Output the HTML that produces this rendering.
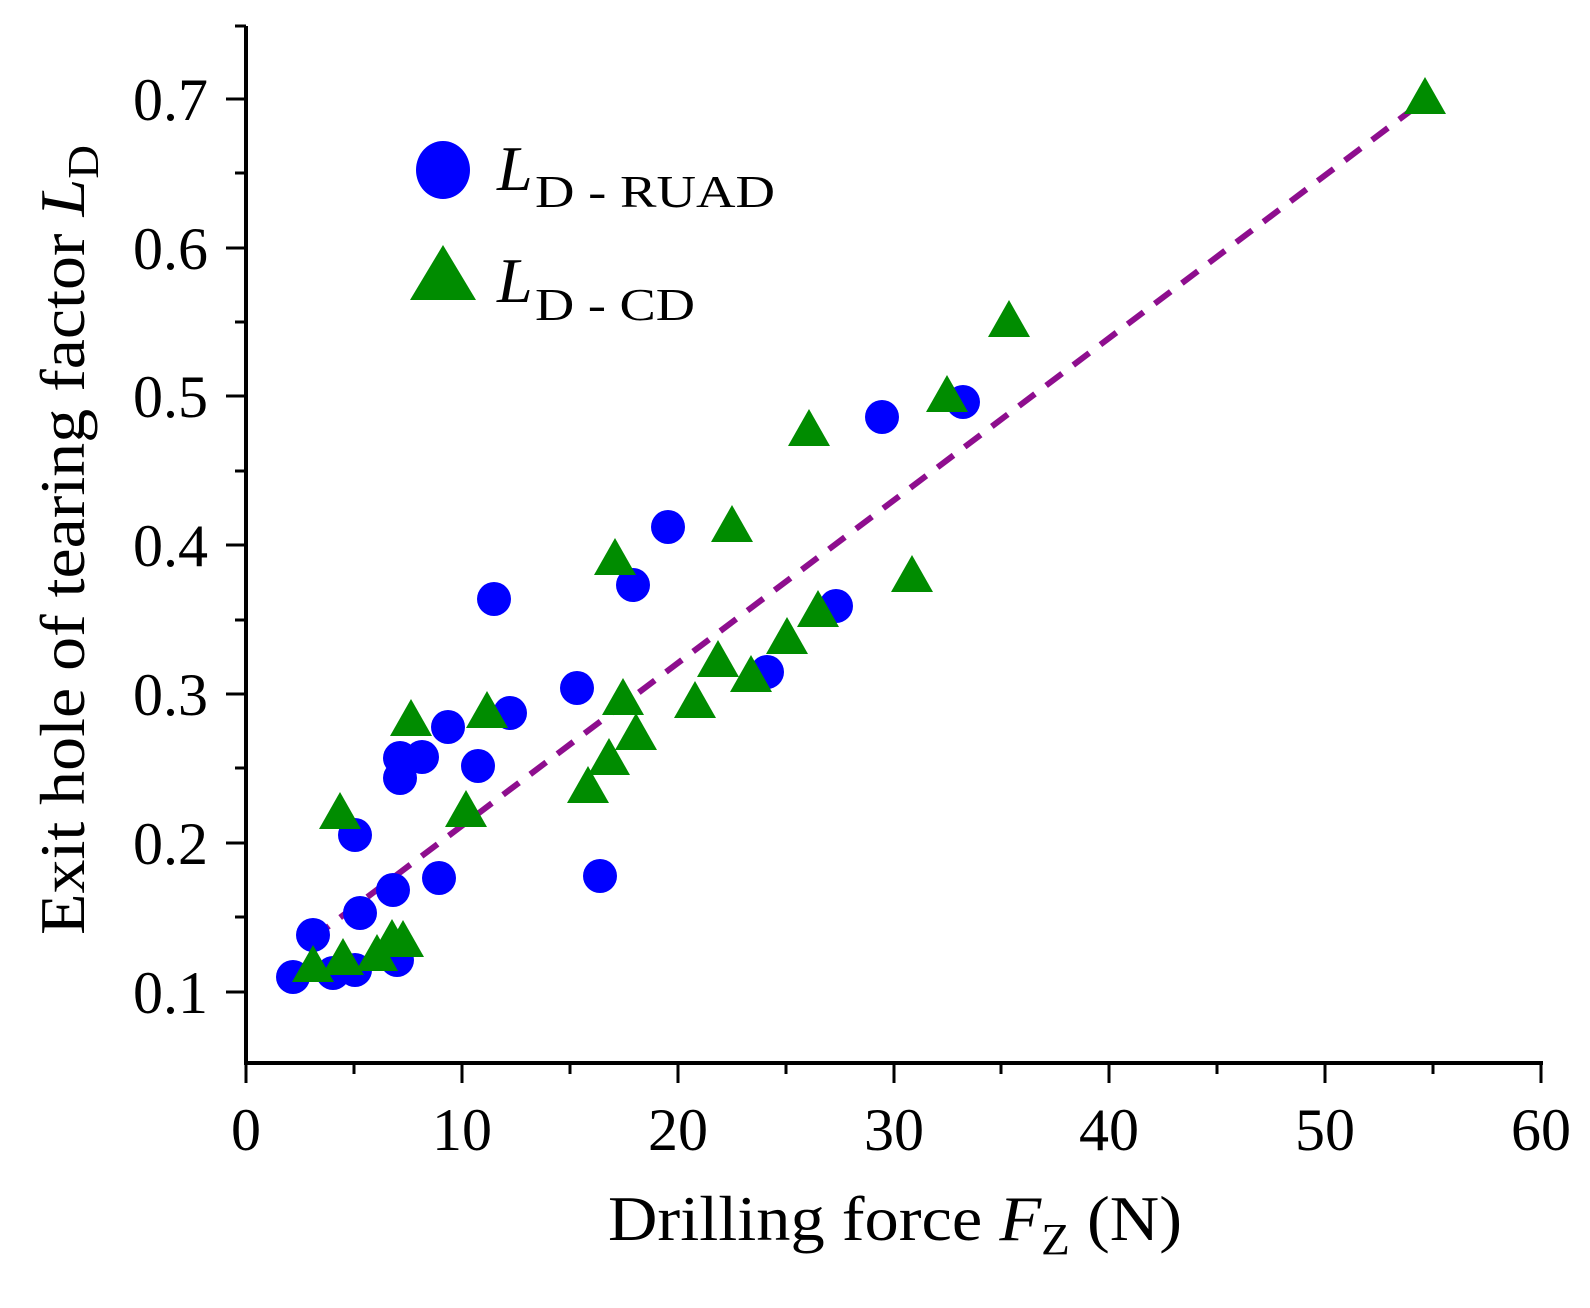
<!DOCTYPE html>
<html><head><meta charset="utf-8"><style>
html,body{margin:0;padding:0;background:#fff;}
svg{display:block;font-family:"Liberation Serif",serif;}
</style></head><body>
<svg width="1590" height="1308" viewBox="0 0 1590 1308" xmlns="http://www.w3.org/2000/svg">
<defs>
<symbol id="tri" overflow="visible"><polygon points="0,-20 -21,17 21,17" fill="#008c00"/></symbol>
</defs>
<g stroke="#000" stroke-width="4" fill="none">
<line x1="246" y1="26" x2="246" y2="1065"/>
<line x1="244" y1="1063" x2="1543" y2="1063"/>
</g>
<g stroke="#000" stroke-width="3">
<line x1="226" y1="99" x2="246" y2="99"/><line x1="226" y1="248" x2="246" y2="248"/>
<line x1="226" y1="396" x2="246" y2="396"/><line x1="226" y1="545" x2="246" y2="545"/>
<line x1="226" y1="694" x2="246" y2="694"/><line x1="226" y1="843" x2="246" y2="843"/>
<line x1="226" y1="992" x2="246" y2="992"/>
<line x1="235" y1="26" x2="246" y2="26"/><line x1="235" y1="173" x2="246" y2="173"/>
<line x1="235" y1="322" x2="246" y2="322"/><line x1="235" y1="471" x2="246" y2="471"/>
<line x1="235" y1="620" x2="246" y2="620"/><line x1="235" y1="768" x2="246" y2="768"/>
<line x1="235" y1="917" x2="246" y2="917"/>
<line x1="246" y1="1063" x2="246" y2="1083"/><line x1="462" y1="1063" x2="462" y2="1083"/>
<line x1="678" y1="1063" x2="678" y2="1083"/><line x1="894" y1="1063" x2="894" y2="1083"/>
<line x1="1109" y1="1063" x2="1109" y2="1083"/><line x1="1325" y1="1063" x2="1325" y2="1083"/>
<line x1="1541" y1="1063" x2="1541" y2="1083"/>
<line x1="354" y1="1063" x2="354" y2="1074"/><line x1="570" y1="1063" x2="570" y2="1074"/>
<line x1="786" y1="1063" x2="786" y2="1074"/><line x1="1001" y1="1063" x2="1001" y2="1074"/>
<line x1="1217" y1="1063" x2="1217" y2="1074"/><line x1="1433" y1="1063" x2="1433" y2="1074"/>
</g>
<g font-size="60" fill="#000" text-anchor="end">
<text x="208" y="120">0.7</text><text x="208" y="269">0.6</text><text x="208" y="417">0.5</text>
<text x="208" y="566">0.4</text><text x="208" y="715">0.3</text><text x="208" y="864">0.2</text>
<text x="208" y="1013">0.1</text>
</g>
<g font-size="60" fill="#000" text-anchor="middle">
<text x="246" y="1150">0</text><text x="462" y="1150">10</text><text x="678" y="1150">20</text>
<text x="894" y="1150">30</text><text x="1109" y="1150">40</text><text x="1325" y="1150">50</text>
<text x="1541" y="1150">60</text>
</g>
<text x="608" y="1240" font-size="64" textLength="574" lengthAdjust="spacingAndGlyphs">Drilling force <tspan font-style="italic">F</tspan><tspan font-size="44" dy="14">Z</tspan><tspan dy="-14"> (N)</tspan></text>
<text transform="translate(84,935) rotate(-90)" font-size="64" textLength="790" lengthAdjust="spacingAndGlyphs">Exit hole of tearing factor <tspan font-style="italic">L</tspan><tspan font-size="44" dy="14">D</tspan></text>
<line x1="313" y1="938" x2="1425" y2="100" stroke="#8e0e8e" stroke-width="6" stroke-dasharray="20,14"/>
<g fill="#0000ff">
<circle cx="293" cy="977" r="17"/><circle cx="313" cy="935" r="17"/><circle cx="333" cy="973" r="17"/>
<circle cx="355" cy="970" r="17"/><circle cx="397" cy="960" r="17"/>
<circle cx="355" cy="835" r="17"/><circle cx="360" cy="913" r="17"/><circle cx="393" cy="890" r="17"/>
<circle cx="439" cy="878" r="17"/><circle cx="400" cy="778" r="17"/><circle cx="400" cy="758" r="17"/>
<circle cx="422" cy="757" r="17"/><circle cx="448" cy="727" r="17"/><circle cx="478" cy="766" r="17"/>
<circle cx="510" cy="713" r="17"/><circle cx="494" cy="599" r="17"/><circle cx="577" cy="688" r="17"/>
<circle cx="600" cy="876" r="17"/><circle cx="633" cy="585" r="17"/><circle cx="668" cy="527" r="17"/>
<circle cx="767" cy="672" r="17"/><circle cx="836" cy="606" r="17"/><circle cx="882" cy="417" r="17"/>
<circle cx="963" cy="402" r="17"/>
</g>
<g>
<use href="#tri" x="313" y="965"/><use href="#tri" x="343" y="958"/><use href="#tri" x="377" y="954"/>
<use href="#tri" x="392" y="939"/><use href="#tri" x="403" y="940"/>
<use href="#tri" x="340" y="812"/><use href="#tri" x="411" y="719"/><use href="#tri" x="487" y="711"/>
<use href="#tri" x="466" y="810"/><use href="#tri" x="588" y="786"/><use href="#tri" x="609" y="758"/>
<use href="#tri" x="623" y="698"/><use href="#tri" x="636" y="733"/><use href="#tri" x="615" y="558"/>
<use href="#tri" x="695" y="701"/><use href="#tri" x="732" y="525"/><use href="#tri" x="718" y="660"/>
<use href="#tri" x="751" y="675"/><use href="#tri" x="787" y="637"/><use href="#tri" x="818" y="610"/>
<use href="#tri" x="809" y="429"/><use href="#tri" x="912" y="575"/><use href="#tri" x="947" y="395"/>
<use href="#tri" x="1009" y="320"/><use href="#tri" x="1425" y="97"/>
</g>
<ellipse cx="443" cy="170" rx="27" ry="29" fill="#0000ff"/>
<polygon points="443,245 410,300 476,300" fill="#008c00"/>
<text x="497" y="190" font-size="64" font-style="italic">L</text>
<text x="535" y="207" font-size="46" textLength="240" lengthAdjust="spacingAndGlyphs">D - RUAD</text>
<text x="497" y="302" font-size="64" font-style="italic">L</text>
<text x="535" y="320" font-size="46" textLength="160" lengthAdjust="spacingAndGlyphs">D - CD</text>
</svg>
</body></html>
